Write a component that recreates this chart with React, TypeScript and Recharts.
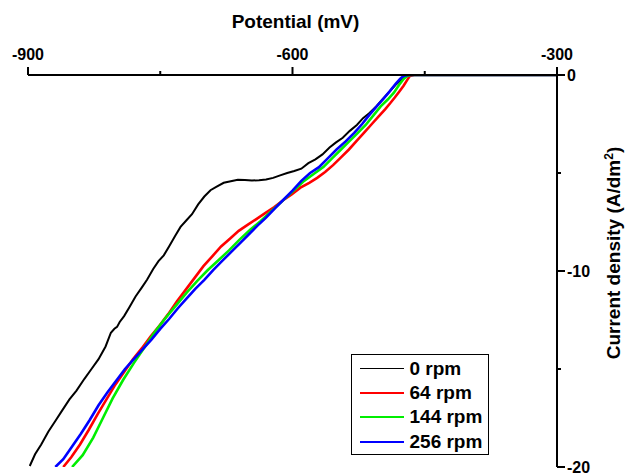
import { LineChart, Line, XAxis, YAxis, Legend, Label } from "recharts";

// potential (mV) / current density (A/dm2)
const rpm0Potential = [-300, -380, -460, -470, -474, -478, -483, -490, -497, -505, -513, -520, -527, -535, -543, -551, -558, -566, -574, -582, -590, -598, -606, -614, -622, -630, -638, -646, -654, -662, -670, -678, -686, -693, -700, -707, -714, -720, -727, -733, -740, -746, -752, -758, -765, -771, -778, -785, -791, -796, -799, -802, -806, -812, -820, -828, -836, -845, -853, -861, -869, -877, -885, -892, -898];
const rpm0Current = [0, 0, 0, 0, -0.1, -0.3, -0.5, -0.85, -1.2, -1.6, -1.95, -2.2, -2.55, -2.85, -3.2, -3.45, -3.7, -4.05, -4.3, -4.5, -4.78, -4.9, -5.0, -5.12, -5.25, -5.33, -5.37, -5.38, -5.36, -5.35, -5.42, -5.5, -5.7, -5.88, -6.2, -6.6, -7.1, -7.4, -7.75, -8.2, -8.75, -9.2, -9.5, -9.9, -10.45, -10.85, -11.3, -11.85, -12.3, -12.6, -12.85, -12.95, -13.15, -13.85, -14.5, -15.0, -15.5, -16.1, -16.55, -17.1, -17.65, -18.2, -18.85, -19.35, -19.95];

const rpm64Potential = [-300, -400, -462, -467, -470, -474, -479, -484, -489, -495, -502, -510, -518, -527, -536, -545, -554, -563, -572, -581, -591, -601, -611, -621, -631, -641, -651, -661, -671, -681, -691, -701, -711, -721, -731, -741, -751, -761, -771, -781, -791, -801, -811, -821, -831, -841, -851, -860];
const rpm64Current = [0, 0, 0, -0.05, -0.26, -0.55, -0.85, -1.15, -1.43, -1.75, -2.1, -2.5, -2.9, -3.35, -3.8, -4.2, -4.6, -4.95, -5.25, -5.5, -5.75, -6.1, -6.4, -6.75, -7.05, -7.35, -7.65, -7.95, -8.35, -8.75, -9.25, -9.75, -10.35, -10.95, -11.55, -12.2, -12.8, -13.35, -13.95, -14.5, -15.15, -15.8, -16.55, -17.3, -18.1, -18.85, -19.5, -20.0];

const rpm144Potential = [-300, -400, -466, -470, -474, -479, -485, -492, -500, -508, -517, -527, -536, -545, -554, -565, -576, -588, -600, -612, -624, -636, -648, -660, -672, -684, -696, -708, -720, -732, -744, -756, -768, -780, -792, -804, -815, -826, -838, -850];
const rpm144Current = [0, 0, 0, -0.05, -0.2, -0.5, -0.9, -1.25, -1.6, -2.05, -2.55, -3.0, -3.4, -3.8, -4.2, -4.7, -5.05, -5.45, -5.95, -6.45, -6.95, -7.45, -7.9, -8.4, -8.95, -9.45, -9.95, -10.5, -11.1, -11.75, -12.4, -13.1, -13.9, -14.7, -15.55, -16.5, -17.5, -18.5, -19.4, -20.0];

const rpm256Potential = [-300, -400, -468, -472, -475, -478, -483, -490, -497, -505, -513, -521, -530, -540, -550, -560, -570, -580, -590, -600, -610, -620, -630, -640, -650, -660, -670, -680, -690, -700, -710, -720, -730, -740, -750, -760, -770, -780, -790, -800, -810, -820, -830, -840, -850, -860, -869];
const rpm256Current = [0, 0, 0, -0.03, -0.08, -0.2, -0.45, -0.85, -1.22, -1.63, -2.05, -2.5, -2.95, -3.4, -3.8, -4.25, -4.7, -5.0, -5.4, -5.9, -6.35, -6.8, -7.28, -7.7, -8.15, -8.6, -9.05, -9.5, -9.95, -10.45, -10.9, -11.4, -11.9, -12.45, -12.95, -13.5, -14.0, -14.5, -15.0, -15.6, -16.2, -16.85, -17.6, -18.3, -18.95, -19.6, -20.0];

const seriesNames = ["0 rpm", "64 rpm", "144 rpm", "256 rpm"];
const seriesColors = ["#000000", "#ff0000", "#00ee00", "#0000ff"];

const xTicks = [-900, -750, -600, -450, -300];
const xTickLabels = [-900, -600, -300];
const yTicks = [-20, -15, -10, -5, 0];
const yTickLabels = [-20, -10, 0];

const FONT = "'Liberation Sans', Arial, Helvetica, sans-serif";

const toPoints = (pot: number[], cur: number[]) =>
  pot.map((p, i) => ({ x: p, y: cur[i] }));

const series = [
  toPoints(rpm0Potential, rpm0Current),
  toPoints(rpm64Potential, rpm64Current),
  toPoints(rpm144Potential, rpm144Current),
  toPoints(rpm256Potential, rpm256Current),
];

const XTick = (props: any) => {
  const { x, y, payload } = props;
  const major = xTickLabels.includes(payload.value);
  return (
    <g>
      <line x1={x} x2={x} y1={y} y2={y - (major ? 8 : 4)} stroke="#000" strokeWidth={2} />
      {major && (
        <text x={x} y={y - 15} textAnchor="middle" fontSize={16} fontWeight="bold" fontFamily={FONT} fill="#000">
          {payload.value}
        </text>
      )}
    </g>
  );
};

const YTick = (props: any) => {
  const { x, y, payload } = props;
  const major = yTickLabels.includes(payload.value);
  return (
    <g>
      <line x1={x} x2={x + (major ? 8 : 4)} y1={y} y2={y} stroke="#000" strokeWidth={2} />
      {major && (
        <text x={x + 10} y={y + 6} textAnchor="start" fontSize={16} fontWeight="bold" fontFamily={FONT} fill="#000">
          {payload.value}
        </text>
      )}
    </g>
  );
};

const YTitle = (props: any) => {
  const { viewBox } = props;
  const cx = viewBox.x + 63;
  const cy = viewBox.y + 178;
  return (
    <text
      x={cx}
      y={cy}
      transform={`rotate(-90, ${cx}, ${cy})`}
      textAnchor="middle"
      fontSize={19}
      fontWeight="bold"
      fontFamily={FONT}
      fill="#000"
    >
      Current density (A/dm
      <tspan dy={-7} fontSize={12}>2</tspan>
      <tspan dy={7}>)</tspan>
    </text>
  );
};

const LegendBox = () => (
  <div
    style={{
      border: "1.5px solid #000",
      background: "#fff",
      width: 138,
      height: 101,
      boxSizing: "border-box",
      paddingTop: 1.5,
      fontFamily: FONT,
      fontSize: 19,
      fontWeight: "bold",
      color: "#000",
    }}
  >
    {seriesNames.map((name, i) => (
      <div key={name} style={{ height: 24.3, display: "flex", alignItems: "center" }}>
        <span
          style={{
            display: "inline-block",
            width: 44,
            height: i === 0 ? 1.5 : 2,
            marginLeft: 7.5,
            background: seriesColors[i],
          }}
        />
        <span style={{ marginLeft: 6, lineHeight: "20px" }}>{name}</span>
      </div>
    ))}
  </div>
);

export default function App() {
  return (
    <div style={{ position: "absolute", left: 0, top: 0 }}>
      <LineChart
        width={627}
        height={475}
        margin={{ top: 35, right: 10, bottom: 8, left: 28 }}
        style={{ fontFamily: FONT }}
      >
        <XAxis
          xAxisId={0}
          type="number"
          dataKey="x"
          orientation="top"
          height={40}
          domain={[-900, -300]}
          allowDataOverflow
          ticks={xTicks}
          interval={0}
          tickSize={0}
          tickMargin={0}
          tick={<XTick />}
          axisLine={{ stroke: "#000", strokeWidth: 2 }}
        >
          <Label
            value="Potential (mV)"
            position="top"
            offset={7}
            dx={3}
            fontSize={19}
            fontWeight="bold"
            fontFamily={FONT}
            fill="#000"
          />
        </XAxis>
        <YAxis
          yAxisId={0}
          type="number"
          orientation="right"
          width={60}
          domain={[-20, 0]}
          allowDataOverflow
          ticks={yTicks}
          interval={0}
          tickSize={0}
          tickMargin={0}
          tick={<YTick />}
          axisLine={{ stroke: "#000", strokeWidth: 2 }}
        >
          <Label content={<YTitle />} />
        </YAxis>
        {series.map((data, i) => (
          <Line
            key={seriesNames[i]}
            data={data}
            dataKey="y"
            name={seriesNames[i]}
            type="linear"
            stroke={seriesColors[i]}
            strokeWidth={i === 0 ? 2 : 2.6}
            dot={false}
            activeDot={false}
            isAnimationActive={false}
          />
        ))}
        <Legend
          layout="vertical"
          align="center"
          verticalAlign="middle"
          content={<LegendBox />}
          wrapperStyle={{ left: 351, top: 354, width: 138, height: 101 }}
        />
      </LineChart>
    </div>
  );
}
